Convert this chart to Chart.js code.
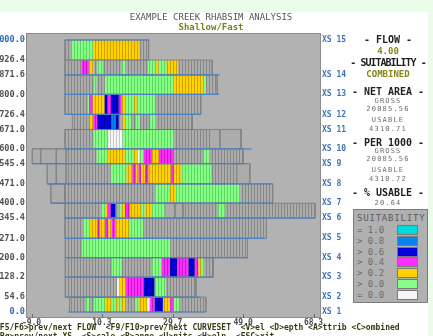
<!DOCTYPE html>
<html>
<head>
<meta charset="utf-8">
<script src="https://cdn.jsdelivr.net/npm/chart.js@4.4.1/dist/chart.umd.min.js"></script>
<style>
  html, body { margin: 0; padding: 0; }
  body { width: 433px; height: 336px; overflow: hidden; position: relative; background: #e9fde9; font-family: "DejaVu Sans Mono", monospace; }
  #sheet { position: absolute; left: 0; top: 12px; width: 428px; height: 324px; background: #ffffff; }
  #wrap { position: absolute; left: 0; top: 0; width: 433px; height: 336px; }
  .t { position: absolute; white-space: pre; line-height: 1; transform: translate(-50%, -50%); }
  .hd { font-weight: bold; font-size: 10px; color: #1e1e1e; }
  .val { font-weight: bold; font-size: 9px; color: #86861c; }
  .sm { font-size: 7px; color: #6e6e6e; letter-spacing: 1.2px; }
  #legend { position: absolute; left: 353px; top: 209px; width: 73px; height: 92px; background: #b0b0b0; border: 1px solid #7c7c7c; }
  #legend .lt { position: absolute; left: 3px; top: 4px; font-size: 9px; color: #5e5e5e; letter-spacing: 0.8px; line-height: 1; }
  #legend .li { position: absolute; left: 3px; font-size: 9px; color: #6c6c6c; line-height: 1; white-space: pre; }
  #legend .sw { position: absolute; left: 43px; width: 19px; height: 8px; border: 1px solid #7a7a7a; }
  #footer { position: absolute; left: -5px; top: 323px; font-size: 8px; font-weight: bold; color: #3a3a12; white-space: pre; line-height: 9px; }
</style>
</head>
<body>
<div id="sheet"></div>
<div id="wrap"><canvas id="chart"></canvas></div>

<div class="t" style="left:211px; top:16.5px; font-size:9px; color:#555555;">EXAMPLE CREEK RHABSIM ANALYSIS</div>
<div class="t" style="left:211px; top:26.5px; font-size:9px; font-weight:bold; color:#7e7e18;">Shallow/Fast</div>

<div id="panel"></div>
<div id="legend"></div>
<div id="footer"></div>

<script>
// Stations (distance upstream) bounding the cell bands, bottom to top
const stations = [0.0, 54.6, 128.2, 200.0, 271.0, 345.4, 400.0, 471.0, 545.4, 600.0, 671.0, 726.4, 800.0, 871.6, 926.4, 1000.0];

// Cross-section names and their stations
const xsNames = ['XS 1', 'XS 2', 'XS 3', 'XS 4', 'XS 5', 'XS 6', 'XS 7', 'XS 8', 'XS 9', 'XS 10', 'XS 11', 'XS 12', 'XS 13', 'XS 14', 'XS 15'];
const xsStations = [0.0, 54.6, 128.2, 200.0, 271.0, 345.4, 400.0, 471.0, 545.4, 600.0, 671.0, 726.4, 800.0, 871.6, 1000.0];

// Lateral distance ticks
const xTicks = [-9.0, 10.3, 29.7, 49.0, 68.3];

// Suitability classes: 6 '=1.0', 5 '>0.8', 4 '>0.6', 3 '>0.4', 2 '>0.2', 1 '>0.0', 0 '=0.0'
// -1 dry cells, -2 a single wide dry cell
// Each band: edge, class, edge, class, ..., edge
const xs1  = [1.4, -1, 5.9, 1, 6.8, -1, 8.1, 1, 11.2, 2, 13.0, 1, 13.9, 2, 14.8, 1, 15.7, 2, 16.9, -1, 19.4, 1, 20.3, 2, 22.7, 0, 23.5, 3, 24.7, 4, 27.0, 2, 29.0, 3, 29.9, 1, 31.5, -1, 38.8];
const xs2  = [0.2, -1, 14.4, 0, 15.1, 2, 16.9, 3, 21.8, 4, 24.7, 1, 27.8, -1, 36.1];
const xs3  = [0.2, -1, 13.0, 1, 15.7, -1, 24.0, 1, 26.7, 3, 28.9, 4, 30.9, 3, 34.0, 4, 35.7, 3, 36.7, 2, 37.7, 1, 38.3, -1, 40.8];
const xs4  = [0.2, -1, 4.8, 1, 29.0, -1, 50.2];
const xs5  = [0.1, -1, 5.1, 1, 7.0, 2, 9.0, 3, 9.7, 2, 11.1, 3, 12.0, 2, 12.9, 3, 14.0, 2, 17.9, 1, 21.6, -1, 55.4];
const xs6  = [0.1, -1, 10.1, 1, 11.2, 2, 11.8, 3, 12.7, 4, 14.0, -1, 14.9, 1, 15.6, 2, 16.6, 3, 17.9, 2, 21.1, 1, 22.0, 2, 23.8, 1, 27.5, -2, 30.3, -2, 32.5, -1, 42.1, 1, 44.0, -1, 68.7];
const xs7  = [-3.7, -2, 0.1, -1, 24.8, 1, 28.8, 2, 30.6, 1, 48.2, -1, 57.1];
const xs8  = [-4.7, -2, -2.2, -2, 0.5, -1, 12.7, 1, 17.0, 2, 18.6, 3, 19.6, 2, 20.3, 3, 21.0, 2, 22.1, 3, 23.0, 2, 29.2, 3, 30.0, 2, 31.9, 1, 40.3, -1, 47.3, -2, 50.8];
const xs9  = [-8.8, -2, -6.5, -2, -2.2, -2, 0.5, -1, 8.8, 1, 11.8, 2, 16.6, 1, 19.0, 2, 20.0, 0, 20.6, 1, 21.8, 3, 24.0, 2, 25.9, 3, 29.9, -1, 38.1, 1, 39.9, -1, 49.0];
const xs10 = [0.1, -1, 7.9, 1, 12.0, 0, 15.9, 1, 30.0, -1, 39.8, -2, 42.6, -2, 48.5];
const xs11 = [2.2, -1, 7.0, 2, 7.9, 3, 9.0, 4, 12.9, 5, 14.0, 4, 14.9, -1, 15.9, 2, 16.7, 1, 18.3, -1, 19.6, 1, 20.7, -1, 23.5, 1, 25.1, -1, 35.1];
const xs12 = [0.1, -1, 6.4, 1, 6.8, 3, 7.7, 2, 11.0, 4, 11.8, 3, 12.8, 4, 14.9, 3, 15.7, 2, 16.8, 1, 19.0, 2, 19.8, 1, 24.9, -1, 37.4];
const xs13 = [0.1, -1, 8.1, 1, 8.8, -1, 11.1, 1, 30.0, 2, 38.0, 1, 38.8, -1, 41.9];
const xs14 = [0.1, -1, 4.7, 3, 6.7, 2, 8.1, -1, 9.0, 1, 10.6, -1, 15.7, 1, 16.8, -1, 22.9, 1, 24.9, 2, 25.8, 1, 28.0, 2, 31.2, -1, 40.5];
const xs15 = [0.1, -1, 1.9, 1, 8.1, 2, 20.7, -1, 23.1];
const bands = [xs1, xs2, xs3, xs4, xs5, xs6, xs7, xs8, xs9, xs10, xs11, xs12, xs13, xs14, xs15];

// Water-surface extent drawn at each station (null where none)
const wetEdges = [[1.0, 38.6], [0.2, 37.2], [0.2, 40.8], [0.2, 50.4], [0.1, 55.0], [0.1, 68.7], [-3.7, 57.1], [-4.7, 57.1],
                  [-8.8, 49.1], [0.1, 51.3], [0.1, 35.3], [0.1, 37.4], [0.1, 42.4], [0.1, 42.6], null, [0.1, 23.2]];

// Legend entries and summary figures
const classLabels = ['= 1.0', '> 0.8', '> 0.6', '> 0.4', '> 0.2', '> 0.0', '= 0.0'];
const classCodes  = [6, 5, 4, 3, 2, 1, 0];
const flow = '4.00';
const suitability = 'COMBINED';
const netGross = '20085.56', netUsable = '4310.71';
const perGross = '20085.56', perUsable = '4310.72';
const pctUsable = '20.64';

// Colours: [fill, cell divider]
const palette = {
  '6': ['#00dada', '#00a8a8'],
  '5': ['#0a82f0', '#0864c4'],
  '4': ['#0000dc', '#0000a0'],
  '3': ['#ff2eff', '#c818c8'],
  '2': ['#ffd200', '#cca200'],
  '1': ['#86ff86', '#60d460'],
  '0': ['#f6f6f6', '#c6c6c6'],
  '-1': ['#acacac', '#878787'],
  '-2': ['#acacac', '#acacac']
};
const outline = '#848484';
const xsBlue = '#4a80c4';

function stripes(fill, line) {
  const c = document.createElement('canvas');
  c.width = 3; c.height = 1;
  const g = c.getContext('2d');
  g.fillStyle = fill; g.fillRect(0, 0, 3, 1);
  g.fillStyle = line; g.fillRect(2, 0, 1, 1);
  return g.createPattern(c, 'repeat');
}
const fills = {};
Object.keys(palette).forEach(k => { fills[k] = k === '-2' ? palette[k][0] : stripes(palette[k][0], palette[k][1]); });

function box(a, b, lo, hi) {
  return [{x: a, y: lo}, {x: a, y: hi}, {x: b, y: hi}, {x: b, y: lo}, {x: a, y: lo}];
}

const datasets = [];
// water-surface lines at the cross sections
wetEdges.forEach((e, i) => {
  if (!e) return;
  datasets.push({ data: [{x: e[0], y: stations[i]}, {x: e[1], y: stations[i]}], borderColor: xsBlue, borderWidth: 1.2, fill: false, order: 0 });
});
// cell bands
bands.forEach((runs, i) => {
  const lo = stations[i], hi = stations[i + 1];
  for (let k = 1; k < runs.length; k += 2) {
    const cls = String(runs[k]);
    datasets.push({
      data: box(runs[k - 1], runs[k + 1], lo, hi),
      fill: 'shape',
      backgroundColor: fills[cls],
      borderColor: outline,
      borderWidth: cls === '-2' ? 1 : 0,
      order: 2
    });
  }
  datasets.push({ data: box(runs[0], runs[runs.length - 1], lo, hi), fill: false, borderColor: outline, borderWidth: 1, order: 1 });
});

const plotFrame = {
  id: 'plotFrame',
  beforeDraw(chart) {
    const {ctx, chartArea: a} = chart;
    ctx.save();
    ctx.fillStyle = '#b2b2b2';
    ctx.fillRect(a.left, a.top, a.right - a.left, a.bottom - a.top);
    ctx.restore();
  },
  afterDraw(chart) {
    const {ctx, chartArea: a, scales} = chart;
    ctx.save();
    ctx.strokeStyle = '#8c8c8c';
    ctx.lineWidth = 1;
    ctx.strokeRect(a.left + 0.5, a.top + 0.5, a.right - a.left - 1, a.bottom - a.top - 1);
    ctx.strokeStyle = '#6a6a6a';
    xTicks.forEach(v => {
      const px = Math.round(scales.x.getPixelForValue(v)) + 0.5;
      ctx.beginPath(); ctx.moveTo(px, a.bottom - 4); ctx.lineTo(px, a.bottom); ctx.stroke();
    });
    ctx.restore();
  }
};

const tickFont = { family: 'DejaVu Sans Mono', size: 8, weight: 'bold' };
const noGrid = { display: false, drawTicks: false, tickLength: 0 };

new Chart(document.getElementById('chart'), {
  type: 'line',
  data: { datasets },
  options: {
    responsive: true,
    maintainAspectRatio: false,
    animation: false,
    events: [],
    layout: { padding: { top: 33, left: 0, right: 0, bottom: 0 } },
    elements: { point: { radius: 0 }, line: { tension: 0 } },
    plugins: { legend: { display: false }, tooltip: { enabled: false } },
    scales: {
      x: {
        type: 'linear', min: -10.51, max: 70.35,
        afterBuildTicks: s => { s.ticks = xTicks.map(v => ({ value: v })); },
        afterFit: s => { s.height = 18; },
        ticks: { callback: v => v.toFixed(1), color: '#4c4c4c', font: tickFont, padding: 0, maxRotation: 0, autoSkip: false },
        grid: noGrid,
        border: { display: false }
      },
      y: {
        type: 'linear', min: -22.06, max: 1025.8,
        afterBuildTicks: s => { s.ticks = stations.map(v => ({ value: v })); },
        afterFit: s => { s.width = 26; },
        ticks: {
          callback: v => v.toFixed(1),
          color: c => (c.tick && (c.tick.value === 0 || c.tick.value === 1000)) ? '#2c6cb4' : '#525252',
          font: { family: 'DejaVu Sans Mono', size: 8.6, weight: 'bold' }, padding: 1, autoSkip: false
        },
        grid: noGrid,
        border: { display: false }
      },
      y2: {
        type: 'linear', position: 'right', min: -22.06, max: 1025.8,
        afterBuildTicks: s => { s.ticks = xsStations.map(v => ({ value: v })); },
        afterFit: s => { s.width = 112; },
        ticks: { callback: v => xsNames[xsStations.indexOf(v)], color: '#3a74b8', font: tickFont, padding: 1, autoSkip: false },
        grid: noGrid,
        border: { display: false }
      }
    }
  },
  plugins: [plotFrame]
});

// side panel
const panelRows = [
  ['hd', '- FLOW -', 40],
  ['val', flow, 51],
  ['hd', '- SUITABILITY -', 63],
  ['val', suitability, 74],
  ['hd', '- NET AREA -', 92],
  ['sm', 'GROSS', 100.5],
  ['sm', netGross, 109],
  ['sm', 'USABLE', 120],
  ['sm', netUsable, 128.5],
  ['hd', '- PER 1000 -', 143],
  ['sm', 'GROSS', 151],
  ['sm', perGross, 159],
  ['sm', 'USABLE', 170],
  ['sm', perUsable, 178.5],
  ['hd', '- % USABLE -', 193],
  ['sm', pctUsable, 202.5]
];
const panel = document.getElementById('panel');
panelRows.forEach(([cls, txt, y]) => {
  const d = document.createElement('div');
  d.className = 't ' + cls;
  d.textContent = txt;
  d.style.left = '388px';
  d.style.top = y + 'px';
  if (txt === '- SUITABILITY -') d.style.letterSpacing = '-1px';
  panel.appendChild(d);
});

// suitability legend
const legend = document.getElementById('legend');
const lt = document.createElement('div');
lt.className = 'lt'; lt.textContent = 'SUITABILITY';
legend.appendChild(lt);
classLabels.forEach((lab, i) => {
  const top = 15 + i * 10.8;
  const li = document.createElement('div');
  li.className = 'li'; li.textContent = lab; li.style.top = (top + 1) + 'px';
  legend.appendChild(li);
  const sw = document.createElement('div');
  sw.className = 'sw'; sw.style.top = top + 'px';
  sw.style.background = palette[String(classCodes[i])][0];
  legend.appendChild(sw);
});

document.getElementById('footer').textContent =
  '<F5/F6>prev/next FLOW  <F9/F10>prev/next CURVESET  <V>el <D>epth <A>ttrib <C>ombined\n' +
  '<Pg>prev/next XS  <S>cale <R>ange <U>nits <H>elp  <ESC>xit';
</script>
</body>
</html>
